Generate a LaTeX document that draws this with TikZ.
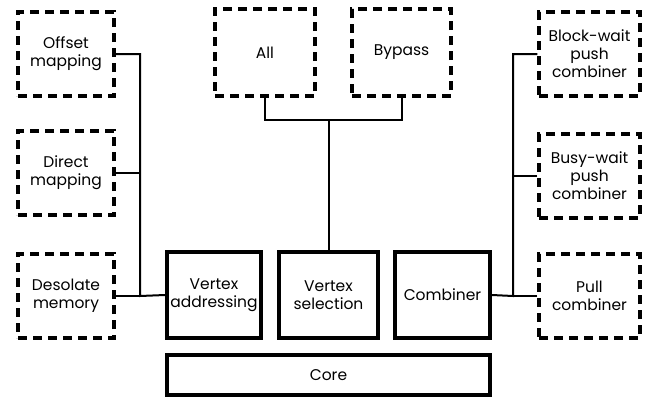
\documentclass[tikz,border=0pt]{standalone}
\usepackage{fontspec}
\setmainfont{Poppins}
\usetikzlibrary{positioning}
\tikzset{
  optbox/.style={draw, line width=3.5pt, dash pattern=on 9pt off 6pt,
    minimum width=96pt, minimum height=84pt, inner sep=0pt, align=center,
    font=\fontsize{15.5}{18}\selectfont},
  unitbox/.style={draw, line width=4pt, minimum height=86pt, inner sep=0pt,
    align=center, font=\fontsize{15.5}{18}\selectfont},
  link/.style={line width=2pt}
}
\begin{document}
\begin{tikzpicture}[x=1pt,y=-1pt]
\useasboundingbox (0,0) rectangle (649,400);
% options on the left
\node[optbox] (off) at (66,54) {Offset\\mapping};
\node[optbox] (dir) at (66,173) {Direct\\mapping};
\node[optbox] (deso) at (66,296) {Desolate\\memory};
% options on top
\node[optbox, minimum height=87pt, minimum width=100pt] (all) at (265,52.5) {All};
\node[optbox, minimum height=87pt, minimum width=99pt] (byp) at (401.5,52.5) {Bypass};
% options on the right
\node[optbox, minimum width=101pt] (blk) at (589.5,54) {Block-wait\\push\\combiner};
\node[optbox, minimum width=101pt] (busy) at (589.5,176) {Busy-wait\\push\\combiner};
\node[optbox, minimum width=101pt] (pull) at (589.5,296) {Pull\\combiner};
% units
\node[unitbox, minimum width=94pt] (vaddr) at (214,295) {Vertex\\addressing};
\node[unitbox, minimum width=99pt] (vsel) at (328.5,295) {Vertex\\selection};
\node[unitbox, minimum width=95pt] (comb) at (442.5,295) {Combiner};
\node[unitbox, minimum width=323pt, minimum height=40pt] (core) at (328.5,375) {Core};
% connectors
\coordinate (ljoin) at (140,296);
\coordinate (tjoin) at (vsel.north |- 0,120);
\coordinate (rjoin) at (513,296);
\draw[link] (off.east) -| (ljoin) -- (vaddr.west);
\draw[link] (dir.east) -- (dir.east -| ljoin);
\draw[link] (deso.east) -- (ljoin);
\draw[link] (all.south) |- (tjoin) -| (byp.south);
\draw[link] (tjoin) -- (vsel.north);
\draw[link] (blk.west) -| (rjoin) -- (comb.east);
\draw[link] (busy.west) -- (busy.west -| rjoin);
\draw[link] (pull.west) -- (rjoin);
\end{tikzpicture}
\end{document}
